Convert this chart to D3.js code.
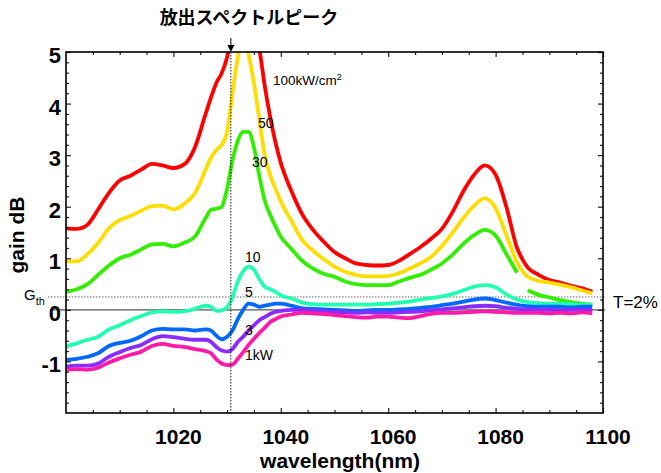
<!DOCTYPE html>
<html>
<head>
<meta charset="utf-8">
<script src="https://cdn.jsdelivr.net/npm/d3@7"></script>
<style>
  body { margin: 0; background: #fff; }
  text { font-family: "Liberation Sans", Arial, sans-serif; fill: #000; }
</style>
</head>
<body>
<script>
// wavelength samples (nm), shared by every curve
const wavelength = [1000,1002,1004,1006,1008,1010,1012,1014,1016,1018,1020,1022,1024,1026,
  1027,1028,1029,1030,1031,1032,1033,1034,1035,1036,1037,1038,1039,
  1040,1042,1044,1046,1048,1050,1052,1054,1056,1058,1060,1062,1064,1066,1068,1070,1072,1074,1076,1078,1080,1082,1084,
  1085,
  1086,1088,1090,1092,1094,1096,1098];

// gain (dB), one list per pump power
const gain100 = [1.58,1.57,1.65,1.95,2.27,2.51,2.60,2.72,2.83,2.80,2.75,2.82,3.15,3.80,
  4.12,4.40,4.59,4.90,5.40,5.70,5.80,5.70,5.40,5.05,4.35,3.75,3.25,
  2.85,2.30,1.85,1.55,1.32,1.12,1.0,0.90,0.87,0.86,0.87,0.95,1.08,1.22,1.38,1.57,1.90,2.30,2.62,2.80,2.62,2.0,1.2,
  0.98,
  0.82,0.68,0.58,0.53,0.47,0.42,0.35];
const gain50 = [0.94,0.94,1.08,1.30,1.58,1.74,1.82,1.92,2.01,2.02,1.95,2.05,2.26,2.72,
  2.95,3.10,3.20,3.45,4.20,4.90,5.30,4.95,4.40,3.70,3.00,2.62,2.35,
  2.10,1.72,1.35,1.15,0.98,0.84,0.74,0.68,0.65,0.65,0.66,0.71,0.80,0.90,1.03,1.24,1.50,1.78,2.02,2.16,1.97,1.45,0.92,
  0.75,
  0.64,0.56,0.53,0.49,0.44,0.38,0.32];
const gain30 = [0.35,0.40,0.50,0.68,0.86,1.0,1.07,1.17,1.27,1.28,1.23,1.30,1.42,1.78,
  1.94,1.96,2.0,2.35,2.9,3.28,3.45,3.45,3.15,2.6,2.12,1.85,1.62,
  1.42,1.18,0.95,0.80,0.70,0.64,0.55,0.50,0.48,0.48,0.48,0.55,0.62,0.68,0.78,0.90,1.07,1.28,1.45,1.55,1.44,1.08,0.72,
  null,
  0.38,0.29,0.24,0.19,0.15,0.12,0.10];
const gain10 = [-0.71,-0.65,-0.58,-0.52,-0.38,-0.30,-0.20,-0.12,-0.05,-0.03,-0.04,-0.03,0.02,0.08,
  0.06,-0.02,-0.01,0.05,0.25,0.55,0.75,0.84,0.78,0.60,0.45,0.40,0.35,
  0.28,0.22,0.14,0.11,0.10,0.10,0.10,0.10,0.10,0.11,0.12,0.14,0.16,0.20,0.23,0.26,0.31,0.38,0.45,0.48,0.44,0.30,0.20,
  0.17,
  0.15,0.13,0.12,0.12,0.11,0.10,0.10];
const gain5 = [-0.97,-0.95,-0.91,-0.84,-0.70,-0.64,-0.60,-0.51,-0.40,-0.37,-0.38,-0.38,-0.40,-0.38,
  -0.40,-0.50,-0.57,-0.52,-0.40,-0.18,0.0,0.12,0.10,0.06,0.08,0.10,0.12,
  0.12,0.08,0.03,0.02,0.01,0.0,-0.01,-0.02,-0.01,0.0,0.0,0.01,0.02,0.04,0.06,0.09,0.12,0.16,0.20,0.22,0.19,0.14,0.10,
  0.08,
  0.07,0.06,0.06,0.06,0.05,0.06,0.06];
const gain3 = [-1.10,-1.08,-1.08,-1.04,-0.91,-0.82,-0.74,-0.68,-0.57,-0.51,-0.53,-0.56,-0.58,-0.58,
  -0.62,-0.72,-0.79,-0.81,-0.76,-0.62,-0.52,-0.40,-0.30,-0.20,-0.14,-0.08,-0.04,
  -0.02,0.0,0.0,-0.02,-0.03,-0.04,-0.05,-0.06,-0.05,-0.06,-0.06,-0.05,-0.04,-0.03,-0.01,0.01,0.03,0.05,0.07,0.08,0.07,0.04,0.02,
  0.01,
  0.01,0.0,0.0,-0.01,0.0,0.0,0.0];
const gain1 = [-1.16,-1.15,-1.16,-1.12,-1.02,-0.94,-0.87,-0.81,-0.70,-0.66,-0.70,-0.72,-0.76,-0.80,
  -0.84,-0.96,-1.04,-1.07,-1.06,-0.95,-0.82,-0.68,-0.56,-0.45,-0.35,-0.24,-0.18,
  -0.13,-0.09,-0.06,-0.07,-0.08,-0.10,-0.12,-0.14,-0.15,-0.13,-0.13,-0.15,-0.16,-0.12,-0.08,-0.06,-0.06,-0.05,-0.04,-0.03,-0.04,-0.05,-0.06,
  -0.06,
  -0.06,-0.06,-0.07,-0.06,-0.07,-0.05,-0.07];

const seriesNames = ["100", "50", "30", "10", "5", "3", "1"];
const seriesValues = [gain100, gain50, gain30, gain10, gain5, gain3, gain1];
const seriesColors = ["#ff0000", "#ffdd00", "#33ee00", "#22ffb0", "#0068ff", "#8a2bff", "#ff1aa8"];

const xMajor = [1020, 1040, 1060, 1080, 1100];
const yMajor = [-1, 0, 1, 2, 3, 4, 5];
const gth = 0.25;        // threshold gain (T=2%)
const peakWl = 1030.7;   // emission peak marker

const width = 661, height = 473;
const margin = {left: 66, right: 58, top: 52, bottom: 60};

const svg = d3.select("body").append("svg")
    .attr("width", width)
    .attr("height", height);

const x = d3.scaleLinear().domain([1000, 1100]).range([margin.left, width - margin.right]);
const y = d3.scaleLinear().domain([-2, 5]).range([height - margin.bottom, margin.top]);

// clip for the curves
svg.append("clipPath").attr("id", "plot")
  .append("rect")
    .attr("x", x(1000)).attr("y", y(5))
    .attr("width", x(1100) - x(1000)).attr("height", y(-2) - y(5));

// zero line and threshold line
svg.append("line")
    .attr("x1", 50).attr("x2", x(1100) + 2)
    .attr("y1", y(0)).attr("y2", y(0))
    .attr("stroke", "#555").attr("stroke-width", 1.2);
svg.append("line")
    .attr("x1", 48).attr("x2", x(1100) + 2)
    .attr("y1", y(gth)).attr("y2", y(gth))
    .attr("stroke", "#666").attr("stroke-width", 1)
    .attr("stroke-dasharray", "1.5,1.5");

// curves
const line = d3.line()
    .defined(d => d[1] !== null)
    .x(d => x(d[0]))
    .y(d => y(d[1]))
    .curve(d3.curveMonotoneX);

svg.append("g").attr("clip-path", "url(#plot)")
  .selectAll("path")
  .data(seriesValues)
  .enter().append("path")
    .attr("d", vals => line(vals.map((v, i) => [wavelength[i], v])))
    .attr("fill", "none")
    .attr("stroke", (d, i) => seriesColors[i])
    .attr("stroke-width", 3.8)
    .attr("stroke-linejoin", "round");

// peak marker: dotted vertical line + arrow
svg.append("line")
    .attr("x1", x(peakWl)).attr("x2", x(peakWl))
    .attr("y1", y(5)).attr("y2", y(-2))
    .attr("stroke", "#000").attr("stroke-width", 0.9)
    .attr("stroke-dasharray", "1.5,1.5");
svg.append("line")
    .attr("x1", x(peakWl)).attr("x2", x(peakWl))
    .attr("y1", 38).attr("y2", 46)
    .attr("stroke", "#000").attr("stroke-width", 1);
svg.append("path")
    .attr("d", `M${x(peakWl) - 3.5},45 L${x(peakWl) + 3.5},45 L${x(peakWl)},${y(5)} Z`)
    .attr("fill", "#000");

// axes with inward ticks
const xMinor = d3.range(1005, 1100, 5).filter(v => v % 20 !== 0);
const yMinor = d3.range(-1.8, 5, 0.2).filter(v => Math.abs(v - Math.round(v)) > 0.01);

function ticks(axisFn, scale, values, size, pos) {
  const g = svg.append("g")
      .attr("transform", pos)
      .call(axisFn(scale).tickValues(values).tickSize(-size).tickFormat(""));
  g.select(".domain").remove();
  g.selectAll("line").attr("stroke", "#222").attr("stroke-width", 1.2);
  return g;
}
const atBottom = `translate(0,${y(-2)})`, atTop = `translate(0,${y(5)})`;
const atLeft = `translate(${x(1000)},0)`, atRight = `translate(${x(1100)},0)`;
ticks(d3.axisBottom, x, xMajor, 5, atBottom);
ticks(d3.axisBottom, x, xMinor, 3, atBottom);
ticks(d3.axisTop, x, xMajor, 5, atTop);
ticks(d3.axisTop, x, xMinor, 3, atTop);
ticks(d3.axisLeft, y, yMajor, 5, atLeft);
ticks(d3.axisLeft, y, yMinor, 3, atLeft);
ticks(d3.axisRight, y, yMajor, 5, atRight);
ticks(d3.axisRight, y, yMinor, 3, atRight);

// frame
svg.append("rect")
    .attr("x", x(1000)).attr("y", y(5))
    .attr("width", x(1100) - x(1000)).attr("height", y(-2) - y(5))
    .attr("fill", "none").attr("stroke", "#000").attr("stroke-width", 1.6);

// tick labels
svg.selectAll(".xlab").data(xMajor).enter().append("text")
    .attr("x", d => x(d) + 5).attr("y", y(-2) + 31)
    .attr("text-anchor", "middle")
    .style("font", "bold 21px 'Liberation Sans', Arial, sans-serif")
    .text(d => d);
svg.selectAll(".ylab").data(yMajor).enter().append("text")
    .attr("x", x(1000) - 5).attr("y", d => y(d) + 11)
    .attr("text-anchor", "end")
    .style("font", "bold 22px 'Liberation Sans', Arial, sans-serif")
    .text(d => String(d));

// axis titles
svg.append("text")
    .attr("x", 340).attr("y", 468)
    .attr("text-anchor", "middle")
    .style("font", "bold 21px 'Liberation Sans', Arial, sans-serif")
    .text("wavelength(nm)");
svg.append("text")
    .attr("transform", "translate(24,235) rotate(-90)")
    .attr("text-anchor", "middle")
    .style("font", "bold 21px 'Liberation Sans', Arial, sans-serif")
    .text("gain dB");

// title
svg.append("text")
    .attr("x", 249).attr("y", 24)
    .attr("text-anchor", "middle")
    .style("font", "bold 18px 'Noto Sans CJK JP', sans-serif")
    .text("放出スペクトルピーク");

// curve labels
const lab = svg.append("g").style("font", "14px 'Liberation Sans', Arial, sans-serif");
const unit = lab.append("text").attr("x", 273).attr("y", 85).style("font-size", "13.5px");
unit.append("tspan").text("100kW/cm");
unit.append("tspan").attr("dy", -5).style("font-size", "9px").text("2");
lab.append("text").attr("x", 258).attr("y", 128).text("50");
lab.append("text").attr("x", 252).attr("y", 167).text("30");
lab.append("text").attr("x", 245).attr("y", 262).text("10");
lab.append("text").attr("x", 245).attr("y", 297).text("5");
lab.append("text").attr("x", 245).attr("y", 335).text("3");
lab.append("text").attr("x", 245).attr("y", 360).text("1kW");

// threshold labels
const gthLabel = svg.append("text").attr("x", 24).attr("y", 300).style("font", "15px 'Liberation Sans', Arial, sans-serif");
gthLabel.append("tspan").text("G");
gthLabel.append("tspan").attr("dy", 5).style("font-size", "11px").text("th");
svg.append("text")
    .attr("x", 613).attr("y", 308)
    .style("font", "17px 'Liberation Sans', Arial, sans-serif")
    .text("T=2%");
</script>
</body>
</html>
